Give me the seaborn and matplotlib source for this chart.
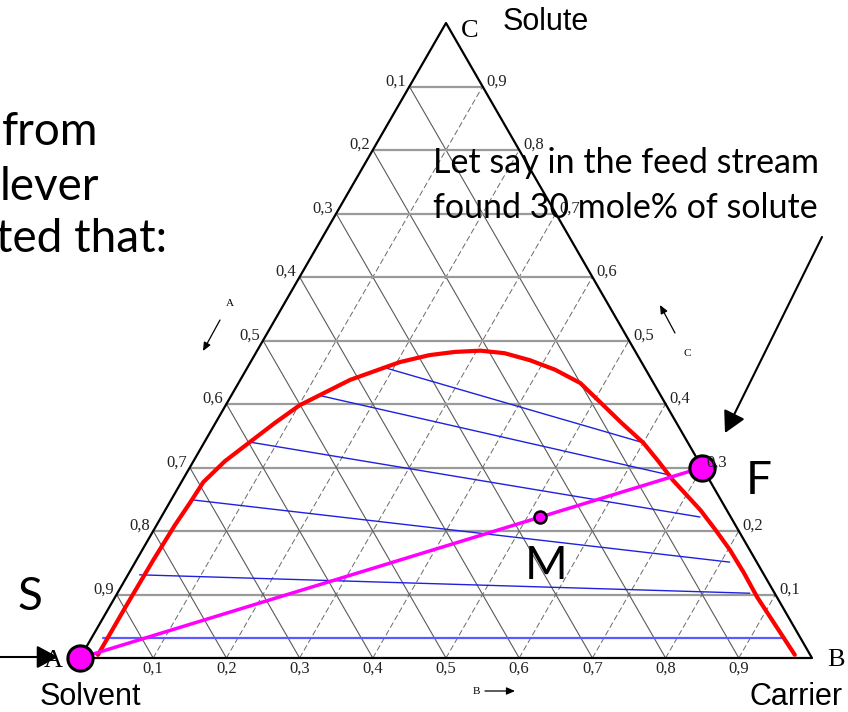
import numpy as np
import pandas as pd
import seaborn as sns
import matplotlib.pyplot as plt

# ---- compositions (mole fractions of carrier B and solute C; A = 1 - B - C) ----
binodal_B = [0.022, 0.022, 0.023, 0.025, 0.028, 0.030, 0.043, 0.062, 0.081, 0.101,
             0.150, 0.204, 0.239, 0.271, 0.305, 0.340, 0.380, 0.422, 0.467, 0.509,
             0.555, 0.600, 0.635, 0.670, 0.731, 0.767, 0.803, 0.840, 0.877, 0.926,
             0.974]
binodal_C = [0.005, 0.079, 0.154, 0.209, 0.244, 0.277, 0.310, 0.340, 0.370, 0.398,
             0.438, 0.466, 0.477, 0.482, 0.484, 0.480, 0.469, 0.454, 0.433, 0.403,
             0.370, 0.339, 0.310, 0.280, 0.233, 0.202, 0.170, 0.134, 0.096, 0.050,
             0.005]

# tie lines: extract end (left) and raffinate end (right)
tie_left_B = [0.185, 0.118, 0.062, 0.029, 0.016, 0.016]
tie_left_C = [0.458, 0.414, 0.340, 0.249, 0.131, 0.031]
tie_right_B = [0.600, 0.662, 0.736, 0.812, 0.864, 0.945]
tie_right_C = [0.339, 0.288, 0.222, 0.151, 0.102, 0.031]

# streams
solvent_S = (0.0, 0.0)
feed_F = (0.70, 0.30)
mixture_M = (0.518, 0.222)

tick_values = [0.1, 0.2, 0.3, 0.4, 0.5, 0.6, 0.7, 0.8, 0.9]
tick_labels = ["0,1", "0,2", "0,3", "0,4", "0,5", "0,6", "0,7", "0,8", "0,9"]

# ---- figure setup ----
sns.set_style("white")
plt.rcParams["text.color"] = "black"
W, H = 848, 712
fig = plt.figure(figsize=(W / 100, H / 100), dpi=100)
R3 = np.sqrt(3) / 2

# triangle corners in pixels: A (80, 658), B (812, 658), C (446, 23)
AX_L, AX_B, AX_W, AX_H = 80, 658, 732, 635
ax = fig.add_axes([AX_L / W, (H - AX_B) / H, AX_W / W, AX_H / H])
ax.set_xlim(0, 1)
ax.set_ylim(0, R3)
ax.axis("off")


def tern(b, c):
    b = np.asarray(b, dtype=float)
    c = np.asarray(c, dtype=float)
    return b + c / 2, c * R3


def to_px(b, c):
    x, y = tern(b, c)
    return AX_L + AX_W * x, AX_B - AX_H * y / R3


def ftext(px, py, s, **kw):
    fig.text(px / W, 1 - py / H, s, **kw)


def farrow(p0, p1, **props):
    ax.annotate("", xy=(p1[0], H - p1[1]), xytext=(p0[0], H - p0[1]),
                xycoords="figure pixels", textcoords="figure pixels",
                arrowprops=props, annotation_clip=False)


# ---- grid ----
for t in tick_values:
    # constant solute
    x, y = tern([0, 1 - t], [t, t])
    ax.plot(x, y, color="#9a9a9a", lw=1.6, zorder=1, clip_on=False)
    # constant solvent
    x, y = tern([1 - t, 0], [0, 1 - t])
    ax.plot(x, y, color="#5a5a5a", lw=0.8, zorder=1, clip_on=False)
    # constant carrier
    x, y = tern([t, t], [0, 1 - t])
    ax.plot(x, y, color="#6a6a6a", lw=0.7, ls=(0, (6, 3)), zorder=1, clip_on=False)

# triangle outline
x, y = tern([0, 1, 0, 0], [0, 0, 1, 0])
ax.plot(x, y, color="black", lw=1.6, zorder=3, clip_on=False)

# ---- tie lines ----
for i in range(len(tie_left_B)):
    x, y = tern([tie_left_B[i], tie_right_B[i]], [tie_left_C[i], tie_right_C[i]])
    last = i == len(tie_left_B) - 1
    ax.plot(x, y, color="#5a5aff" if last else "#2020e0", lw=1.6 if last else 1.0,
            zorder=4, clip_on=False)

# ---- binodal curve ----
bx, by = tern(binodal_B, binodal_C)
sns.lineplot(x=bx, y=by, sort=False, estimator=None, color="#ff0000",
             lw=3, ax=ax, zorder=5)

# ---- mixing line S-F through M ----
x, y = tern([solvent_S[0], feed_F[0]], [solvent_S[1], feed_F[1]])
ax.plot(x, y, color="#ff00ff", lw=2.5, zorder=6, clip_on=False)

pts = pd.DataFrame({"B": [solvent_S[0], feed_F[0]], "C": [solvent_S[1], feed_F[1]]})
px_, py_ = tern(pts["B"], pts["C"])
sns.scatterplot(x=px_, y=py_, s=330, color="#ff00ff", edgecolor="black",
                linewidth=2.2, ax=ax, zorder=8, clip_on=False)
mx, my = tern(mixture_M[0], mixture_M[1])
sns.scatterplot(x=[mx], y=[my], s=75, color="#ff00ff", edgecolor="black",
                linewidth=1.8, ax=ax, zorder=8, clip_on=False)

# ---- axis tick labels ----
serif = ["Liberation Serif", "DejaVu Serif"]
for k, (t, lab) in enumerate(zip(tick_values, tick_labels)):
    # left side (solvent A), value decreasing upwards
    lx, ly = to_px(0, t)
    ftext(lx - 3, ly - 5, tick_labels[8 - k], ha="right", va="center",
          fontsize=12, family=serif, color="#222222")
    # right side (solute C)
    rx, ry = to_px(1 - t, t)
    ftext(rx + 4, ry - 5, lab, ha="left", va="center", fontsize=12,
          family=serif, color="#222222")
    # base (carrier B)
    bx_, by_ = to_px(t, 0)
    ftext(bx_, by_ + 11, lab, ha="center", va="center", fontsize=12,
          family=serif, color="#222222")

# vertex letters
ftext(53, 661, "A", ha="center", va="center", fontsize=19, family=serif)
ftext(836, 660, "B", ha="center", va="center", fontsize=19, family=serif)
ftext(470, 31, "C", ha="center", va="center", fontsize=19, family=serif)

# direction hints along the sides
ftext(230, 303, "A", ha="center", va="center", fontsize=8, family=serif)
ftext(687, 354, "C", ha="center", va="center", fontsize=8, family=serif)
ftext(476, 691, "B", ha="center", va="center", fontsize=8, family=serif)
small = dict(arrowstyle="-|>,head_length=0.5,head_width=0.22", color="black",
             lw=0.9, shrinkA=0, shrinkB=0, mutation_scale=10)
farrow((220, 320), (203, 351), **small)
farrow((675, 333), (660, 305), **small)
farrow((485, 691), (515, 691), **small)

# ---- component names ----
sans = ["Liberation Sans", "DejaVu Sans"]
ftext(503, 22, "Solute", ha="left", va="center", fontsize=22, family=sans)
ftext(40, 697, "Solvent", ha="left", va="center", fontsize=22, family=sans)
ftext(843, 697, "Carrier", ha="right", va="center", fontsize=22, family=sans)

# ---- annotation text ----
big = ["Lato", "DejaVu Sans"]
ftext(433, 173, "Let say in the feed stream", ha="left", va="baseline",
      fontsize=24.5, family=big)
ftext(433, 218, "found 30 mole% of solute", ha="left", va="baseline",
      fontsize=24.5, family=big)
ftext(2, 145, "from", ha="left", va="baseline", fontsize=33, family=big)
ftext(0, 200, "lever", ha="left", va="baseline", fontsize=33, family=big)
ftext(-4, 252, "ted that:", ha="left", va="baseline", fontsize=33, family=big)

ftext(30, 597, "S", ha="center", va="center", fontsize=33, family=big)
ftext(759, 481, "F", ha="center", va="center", fontsize=33, family=big)
ftext(546, 566, "M", ha="center", va="center", fontsize=33, family=big)

# ---- pointer arrows ----
pointer = dict(arrowstyle="-|>,head_length=1.3,head_width=0.7", color="black",
               lw=1.5, shrinkA=0, shrinkB=0, mutation_scale=10)
farrow((0, 657), (58, 657), **pointer)
farrow((822, 237), (725, 433), **pointer)

fig.savefig("out.png", dpi=100)
